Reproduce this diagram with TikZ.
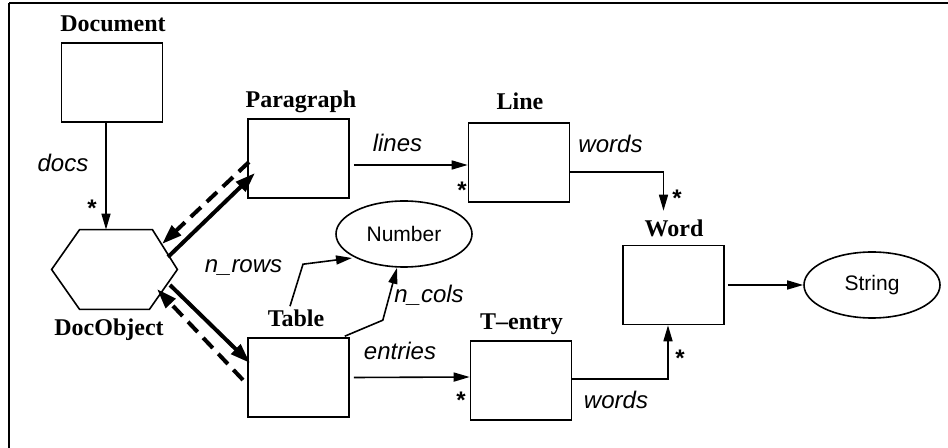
\documentclass[tikz,border=0pt]{standalone}
\usepackage{fontspec}
\setmainfont{Liberation Serif}
\setsansfont{Liberation Sans}
\usetikzlibrary{arrows.meta,shapes.geometric}
\begin{document}
\begin{tikzpicture}[x=0.5pt,y=-0.5pt,
  cls/.style={draw, line width=0.8pt, minimum width=50.5pt, minimum height=39.5pt, inner sep=0pt},
  val/.style={draw, ellipse, line width=0.8pt, minimum width=68pt, minimum height=33pt, inner sep=0pt,
              font=\sffamily\fontsize{10.5}{12}\selectfont},
  title/.style={anchor=base, font=\bfseries\fontsize{12}{14}\selectfont, inner sep=0pt},
  role/.style={anchor=base, font=\sffamily\itshape\fontsize{12}{14}\selectfont, inner sep=0pt},
  mult/.style={anchor=base, font=\sffamily\bfseries\fontsize{12}{14}\selectfont, inner sep=0pt},
  link/.style={line width=0.8pt, -{Triangle[length=8pt,width=4.5pt]}},
  part/.style={line width=2pt, -{Triangle[length=10pt,width=6.5pt]}},
  back/.style={part, dash pattern=on 7pt off 4pt},
]
\useasboundingbox (0,0) rectangle (948,448);

% frame
\coordinate (frameTL) at (9,3);
\draw[line width=1pt] (frameTL) -- (960,3);
\draw[line width=1pt] (frameTL) -- (9,460);

% classes
\node[cls] (doc)   at (112,82.5)  {};
\node[cls] (para)  at (298.5,158.5) {};
\node[cls] (line)  at (519,162.5) {};
\node[cls] (table) at (298.5,377.5) {};
\node[cls] (tent)  at (521,380.5) {};
\node[cls] (word)  at (673.5,285) {};
\node[inner sep=0pt, minimum width=62.5pt, minimum height=39.5pt] (hex) at (114.5,269.5) {};
\draw[line width=0.8pt] (hex.west) -- ([shift={(28,0)}]hex.north west) -- ([shift={(-25,0)}]hex.north east)
  -- (hex.east) -- ([shift={(-28,0)}]hex.south east) -- ([shift={(28,0)}]hex.south west) -- cycle;

% value types
\node[val] (number) at (404,234) {Number};
\node[val] (string) at (872,285) {String};

% class names
\node[title] (tdoc)   at (113,32)  {Document};
\node[title] (tpara)  at (301,108) {Paragraph};
\node[title] (tline)  at (520,110) {Line};
\node[title] (thex)   at (109,336) {DocObject};
\node[title] (ttable) at (296,327) {Table};
\node[title] (ttent)  at (521.5,330) {T\textendash entry};
\node[title] (tword)  at (674,237) {Word};

% associations
\draw[link] ([shift={(-6,0)}]doc.south) -- ([shift={(-8.5,0)}]hex.north);
\draw[link] ([shift={(4,6.5)}]para.east) -- ([shift={(0,2.5)}]line.west);
\draw[link] ([shift={(0,9.5)}]line.east) -| ([shift={(-10,-34)}]word.north);
\draw[link] ([shift={(4,0)}]table.east) -- ([shift={(0,-3.5)}]tent.west);
\draw[link] ([shift={(0,-1.5)}]tent.east) -| ([shift={(-5.5,0)}]word.south);
\draw[link] ([shift={(3,0)}]word.east) -- (string.west);
\draw[link] ([shift={(-8.5,-31)}]table.north) -- ++(13,-42) -- ([shift={(-52,24)}]number.center);
\draw[link] ([shift={(-5,-1)}]table.north east) -- ++(38,-16) -- ([shift={(-7,0)}]number.south);

% inheritance
\draw[part] ([shift={(53.5,-12.5)}]hex.center) -- ([shift={(-43.5,14.5)}]para.center);
\draw[back] ([shift={(-49.5,3.5)}]para.center) -- ([shift={(47.5,-25.5)}]hex.center);
\draw[part] ([shift={(55.5,15.5)}]hex.center) -- ([shift={(-48.5,-14.5)}]table.center);
\draw[back] ([shift={(-55.5,2.5)}]table.center) -- ([shift={(42.5,19.5)}]hex.center);

% role names
\node[role] (rdocs)    at (63,172)    {docs};
\node[role] (rlines)   at (397.5,152) {lines};
\node[role] (rwords1)  at (610.5,153) {words};
\node[role] (rrows)    at (243.5,273) {n\_rows};
\node[role] (rcols)    at (429,303)   {n\_cols};
\node[role] (rentries) at (400,360)   {entries};
\node[role] (rwords2)  at (616,409)   {words};

% multiplicities
\node[mult] (m1) at (92,217)  {*};
\node[mult] (m2) at (462,199) {*};
\node[mult] (m3) at (677,207) {*};
\node[mult] (m4) at (461,409) {*};
\node[mult] (m5) at (680,367) {*};
\end{tikzpicture}
\end{document}
